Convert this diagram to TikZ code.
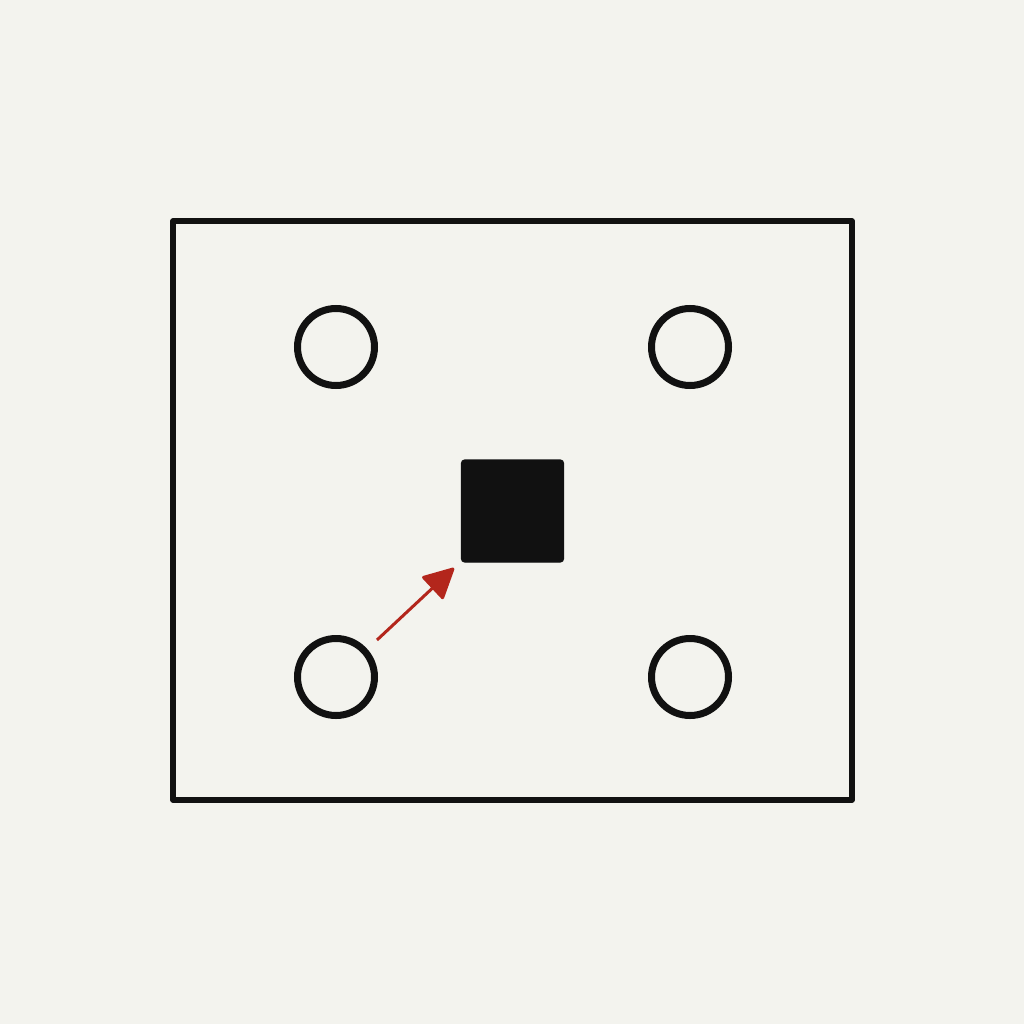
\documentclass[tikz,border=0pt]{standalone}
\usetikzlibrary{arrows.meta}
\definecolor{paper}{HTML}{F3F3EE}
\definecolor{ink}{HTML}{111111}
\definecolor{redink}{HTML}{B3261C}
\begin{document}
\begin{tikzpicture}[x=0.01cm,y=-0.01cm,
  frame/.style={draw=ink,line width=5.5pt*0.2845,line join=round},
  hole/.style={circle,draw=ink,line width=7pt*0.2845,minimum size=77*0.01cm,inner sep=0pt},
  block/.style={rectangle,fill=ink,draw=ink,rounded corners=1pt,minimum size=102*0.01cm,inner sep=0pt},
  pointer/.style={draw=redink,line width=3pt*0.2845,-{Triangle[length=0.32cm,width=0.32cm,round]}}]
\fill[paper] (0,0) rectangle (1024,1024);
\useasboundingbox (0,0) rectangle (1024,1024);
\draw[frame] (173,221) rectangle (852,800);
\node[hole] (c1) at (336,347) {};
\node[hole] (c2) at (690,347) {};
\node[hole] (c3) at (336,677) {};
\node[hole] (c4) at (690,677) {};
\node[block] (sq) at (512.5,511) {};
\coordinate (tail) at (377,640);
\coordinate (tip) at (454,568);
\draw[pointer] (tail) -- (tip);
\end{tikzpicture}
\end{document}
